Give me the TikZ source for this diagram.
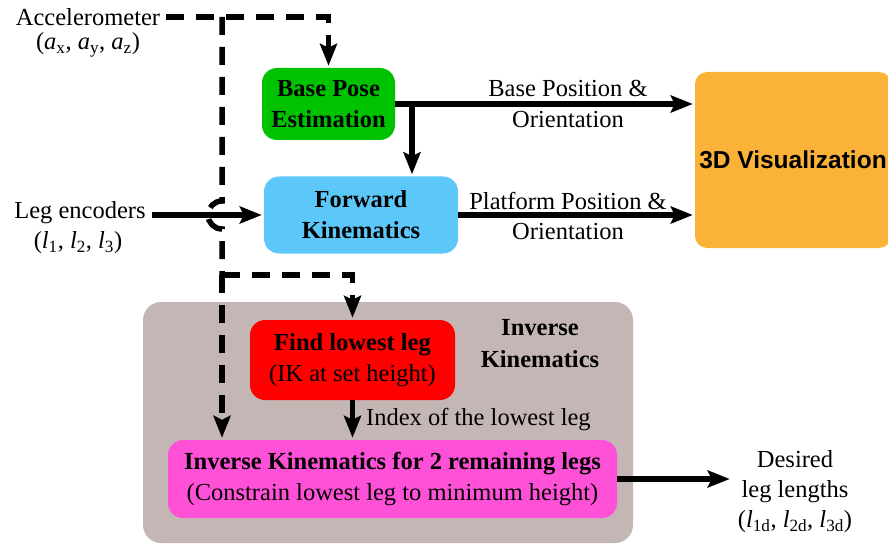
\documentclass[tikz,border=0pt]{standalone}
\usepackage{fontspec}
\setmainfont{Liberation Serif}
\newfontfamily\visfont{Liberation Sans}
\usetikzlibrary{arrows.meta,positioning}
\definecolor{baseGreen}{RGB}{0,194,0}
\definecolor{fkBlue}{RGB}{92,200,250}
\definecolor{visOrange}{RGB}{251,178,56}
\definecolor{ikGray}{RGB}{196,182,180}
\definecolor{findRed}{RGB}{255,0,0}
\definecolor{remPink}{RGB}{255,80,216}
\begin{document}
\begin{tikzpicture}[x=1pt,y=-1pt,
    font=\fontsize{24.5}{31}\selectfont,
    box/.style={rounded corners=15pt, align=center, inner sep=0pt},
    lbl/.style={align=center, inner sep=0pt},
    flow/.style={line width=5.5pt, -{Stealth[length=22pt,width=17pt,inset=4pt]}, shorten >=2pt},
    sig/.style={flow, dash pattern=on 18pt off 12pt}]

  \clip (0,0) rectangle (888,548);

  \node[box, fill=ikGray, rounded corners=18pt, minimum width=490pt, minimum height=241pt] (ik) at (388,422.5) {};
  \node[lbl, font=\fontsize{24.5}{32}\selectfont\bfseries] (iklabel) at (540,344) {Inverse\\Kinematics};

  \node[box, fill=baseGreen, minimum width=133pt, minimum height=72pt] (base) at (328.5,104)
    {\textbf{Base Pose}\\\textbf{Estimation}};
  \node[box, fill=fkBlue, minimum width=194pt, minimum height=77pt] (fk) at (361,215)
    {\textbf{Forward}\\\textbf{Kinematics}};
  \node[box, fill=visOrange, rounded corners=12pt, minimum width=196pt, minimum height=176pt] (vis) at (793,160)
    {\visfont\bfseries 3D Visualization};
  \node[box, fill=findRed, minimum width=205pt, minimum height=80pt] (find) at (352.5,360)
    {\textbf{Find lowest leg}\\(IK at set height)};
  \node[box, fill=remPink, minimum width=449pt, minimum height=78pt] (rem) at (392.5,479)
    {\textbf{Inverse Kinematics for 2 remaining legs}\\(Constrain lowest leg to minimum height)};

  \node[lbl] (acc) at (88,17) {Accelerometer};
  \node[lbl] (accsub) at (88,45) {(\textit{a}\textsubscript{x}, \textit{a}\textsubscript{y}, \textit{a}\textsubscript{z})};
  \node[lbl] (legs) at (80,213) {Leg encoders};
  \node[lbl] (legsub) at (78,243) {(\textit{l}\textsubscript{1}, \textit{l}\textsubscript{2}, \textit{l}\textsubscript{3})};
  \node[lbl, font=\fontsize{24.5}{30}\selectfont] (desired) at (795,492)
    {Desired\\leg lengths\\(\textit{l}\textsubscript{1d}, \textit{l}\textsubscript{2d}, \textit{l}\textsubscript{3d})};

  \coordinate (split) at (222,17);
  \coordinate (hopA) at (222,201);
  \coordinate (fork) at (222,275);
  \coordinate (tap) at (412,104);

  \draw[sig] ([xshift=6pt]acc.east) -| (base.north);
  \draw[line width=5.5pt, dash pattern=on 18pt off 12pt] (split) -- (hopA)
    arc[start angle=90, end angle=270, radius=14pt] -- (fork);
  \draw[sig] (fork) -| (find.north);
  \draw[sig] (fork) -- (fork |- rem.north);

  \draw[flow] ([xshift=6pt]legs.east |- fk.west) -- (fk.west);
  \draw[flow] (base.east) -- (base.east -| vis.west);
  \draw[flow] (tap) -- (tap |- fk.north);
  \draw[flow] (fk.east) -- (fk.east -| vis.west);
  \draw[flow] (find.south) -- (find.south |- rem.north);
  \draw[flow] (rem.east) -- ([xshift=-6pt]rem.east -| desired.west);

  \node[lbl] (baseout) at (568,88) {Base Position \&};
  \node[lbl] (baseout2) at (568,120) {Orientation};
  \node[lbl] (fkout) at (568,201) {Platform Position \&};
  \node[lbl] (fkout2) at (568,232) {Orientation};
  \node[lbl, anchor=west] (idx) at (366,420) {Index of the lowest leg};

\end{tikzpicture}
\end{document}
